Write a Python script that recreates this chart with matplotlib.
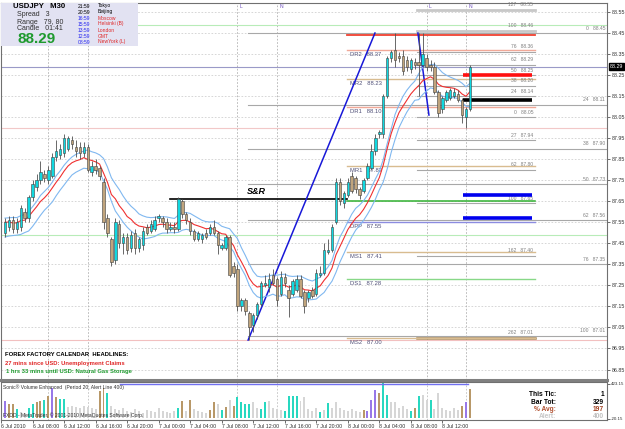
import matplotlib
matplotlib.use('Agg')
import matplotlib.pyplot as plt
import numpy as np
import pandas as pd
from matplotlib.patches import Rectangle

plt.rcParams['font.family'] = ['Liberation Sans', 'DejaVu Sans']

W, H = 625, 429

# ---- data -------------------------------------------------------------
opens = [87.50, 87.53, 87.56, 87.52, 87.53, 87.60, 87.57, 87.67, 87.72, 87.75,
         87.78, 87.75, 87.77, 87.86, 87.87, 87.88, 87.90, 87.94, 87.91, 87.91,
         87.88, 87.91, 87.79, 87.82, 87.81, 87.74, 87.57, 87.47, 87.37, 87.54,
         87.45, 87.48, 87.43, 87.50, 87.43, 87.44, 87.53, 87.51, 87.52, 87.57,
         87.57, 87.55, 87.52, 87.53, 87.52, 87.65, 87.59, 87.55, 87.51, 87.47,
         87.47, 87.50, 87.50, 87.53, 87.50, 87.43, 87.43, 87.48, 87.34, 87.33,
         87.15, 87.18, 87.12, 87.06, 87.11, 87.16, 87.25, 87.24, 87.30, 87.28,
         87.21, 87.29, 87.23, 87.21, 87.23, 87.28, 87.22, 87.19, 87.23, 87.21,
         87.30, 87.31, 87.41, 87.42, 87.55, 87.74, 87.64, 87.68, 87.77, 87.76,
         87.71, 87.70, 87.76, 87.81, 87.89, 87.97, 87.97, 88.15, 88.33, 88.37,
         88.34, 88.34, 88.32, 88.28, 88.31, 88.31, 88.30, 88.33, 88.30, 88.29,
         88.17, 88.09, 88.13, 88.14, 88.15, 88.16, 88.13, 88.05, 88.09]
highs = [87.57, 87.58, 87.58, 87.57, 87.63, 87.62, 87.68, 87.75, 87.78, 87.84,
         87.80, 87.82, 87.88, 87.94, 87.92, 87.97, 87.96, 87.96, 87.94, 87.93,
         87.93, 87.92, 87.84, 87.85, 87.82, 87.76, 87.59, 87.48, 87.57, 87.56,
         87.50, 87.50, 87.51, 87.52, 87.48, 87.53, 87.54, 87.56, 87.58, 87.59,
         87.58, 87.57, 87.55, 87.55, 87.67, 87.66, 87.60, 87.57, 87.52, 87.51,
         87.50, 87.52, 87.54, 87.56, 87.51, 87.45, 87.49, 87.49, 87.36, 87.35,
         87.19, 87.19, 87.13, 87.12, 87.17, 87.27, 87.30, 87.31, 87.33, 87.29,
         87.32, 87.31, 87.25, 87.28, 87.30, 87.30, 87.23, 87.23, 87.24, 87.33,
         87.34, 87.45, 87.47, 87.54, 87.76, 87.76, 87.70, 87.76, 87.79, 87.77,
         87.72, 87.76, 87.83, 87.92, 87.97, 87.99, 88.16, 88.34, 88.37, 88.45,
         88.36, 88.37, 88.34, 88.33, 88.33, 88.45, 88.45, 88.35, 88.32, 88.31,
         88.18, 88.15, 88.18, 88.19, 88.19, 88.18, 88.14, 88.10, 88.30]
lows = [87.48, 87.51, 87.50, 87.50, 87.51, 87.55, 87.55, 87.65, 87.70, 87.73,
        87.74, 87.73, 87.76, 87.84, 87.85, 87.86, 87.89, 87.90, 87.86, 87.85,
        87.86, 87.79, 87.77, 87.78, 87.75, 87.52, 87.48, 87.34, 87.35, 87.43,
        87.40, 87.40, 87.41, 87.40, 87.41, 87.42, 87.49, 87.50, 87.51, 87.55,
        87.53, 87.50, 87.51, 87.50, 87.51, 87.57, 87.54, 87.49, 87.46, 87.46,
        87.45, 87.47, 87.49, 87.49, 87.40, 87.42, 87.42, 87.29, 87.29, 87.13,
        87.13, 87.11, 86.99, 87.03, 87.09, 87.15, 87.24, 87.22, 87.25, 87.15,
        87.20, 87.24, 87.10, 87.20, 87.22, 87.19, 87.12, 87.17, 87.19, 87.20,
        87.29, 87.30, 87.40, 87.41, 87.54, 87.63, 87.62, 87.67, 87.69, 87.69,
        87.66, 87.69, 87.75, 87.80, 87.87, 87.95, 87.95, 88.14, 88.31, 88.29,
        88.31, 88.25, 88.27, 88.26, 88.28, 88.15, 88.29, 88.27, 88.27, 88.16,
        88.05, 88.07, 88.12, 88.13, 88.14, 88.12, 88.02, 88.00, 88.08]
closes = [87.55, 87.56, 87.52, 87.55, 87.62, 87.57, 87.67, 87.73, 87.75, 87.79,
          87.76, 87.80, 87.86, 87.89, 87.90, 87.95, 87.95, 87.92, 87.89, 87.88,
          87.91, 87.80, 87.82, 87.80, 87.77, 87.55, 87.50, 87.36, 87.55, 87.45,
          87.48, 87.42, 87.49, 87.43, 87.47, 87.51, 87.50, 87.54, 87.56, 87.58,
          87.55, 87.52, 87.53, 87.52, 87.66, 87.59, 87.56, 87.51, 87.47, 87.50,
          87.49, 87.48, 87.53, 87.50, 87.44, 87.44, 87.48, 87.30, 87.31, 87.15,
          87.18, 87.13, 87.05, 87.11, 87.16, 87.26, 87.26, 87.28, 87.26, 87.18,
          87.29, 87.26, 87.19, 87.27, 87.28, 87.20, 87.15, 87.22, 87.20, 87.31,
          87.31, 87.42, 87.42, 87.53, 87.74, 87.65, 87.69, 87.74, 87.70, 87.71,
          87.68, 87.75, 87.82, 87.89, 87.95, 87.98, 88.15, 88.33, 88.36, 88.32,
          88.33, 88.27, 88.29, 88.32, 88.30, 88.30, 88.35, 88.29, 88.29, 88.17,
          88.07, 88.14, 88.17, 88.18, 88.17, 88.13, 88.06, 88.09, 88.29]

volumes = [200, 166, 166, 108, 73, 65, 120, 166, 190, 200,
           213, 260, 353, 248, 225, 225, 131, 140, 131, 120,
           140, 131, 120, 108, 318, 353, 295, 140, 108, 96,
           120, 90, 75, 110, 85, 60, 100, 80, 70, 120,
           90, 70, 60, 90, 120, 200, 85, 213, 110, 90,
           70, 60, 100, 190, 166, 96, 131, 213, 140, 248,
           190, 166, 166, 190, 120, 110, 190, 200, 120, 110,
           100, 80, 260, 260, 260, 200, 248, 110, 90, 120,
           70, 100, 180, 120, 190, 120, 100, 80, 110, 90,
           70, 100, 80, 213, 330, 300, 411, 270, 190, 190,
           120, 140, 110, 90, 120, 260, 270, 213, 213, 110,
           295, 120, 100, 80, 120, 100, 140, 190, 342]
vol_kind = ("pttcggccttctptccgggggggg"
            "ttcggggggggggggggggg"
            "ctgtggggttgctgtccccggccgg"
            "ggccccgggggcgcgggggggg"
            "tpppt" "ccgggggctcggcgggggggt")

time_labels = ["6 Jul 2010", "6 Jul 08:00", "6 Jul 12:00", "6 Jul 16:00", "6 Jul 20:00",
               "7 Jul 00:00", "7 Jul 04:00", "7 Jul 08:00", "7 Jul 12:00", "7 Jul 16:00",
               "7 Jul 20:00", "8 Jul 00:00", "8 Jul 04:00", "8 Jul 08:00", "8 Jul 12:00"]
time_ticks = [-1 + 8 * k for k in range(len(time_labels))]

price_ticks = [88.55, 88.45, 88.35, 88.25, 88.15, 88.05, 87.95, 87.85, 87.75, 87.65,
               87.55, 87.45, 87.35, 87.25, 87.15, 87.05, 86.95, 86.85]
bid = 88.29

# fib drawn on the rally (long, right side labels)
fib_r_pct = [0, 24, 38, 50, 62, 76, 100]
fib_r_val = [88.45, 88.11, 87.90, 87.73, 87.56, 87.35, 87.01]
# fib drawn on the last swing (short)
fib_s_pct = [127, 100, 76, 62, 50, 38, 24, 0, 27, 62, 100, 162, 262]
fib_s_val = [88.56, 88.46, 88.36, 88.30, 88.25, 88.20, 88.15, 88.05, 87.94, 87.80, 87.64, 87.39, 87.00]
fib_s_txt = ["88.55", "88.46", "88.36", "88.29", "88.25", "88.20", "88.14", "88.05",
             "87.94", "87.80", "87.65", "87.40", "87.01"]

pivot_names = ["DR2", "MR2", "DR1", "MR1", "DPP", "MS1", "DS1", "MS2"]
pivot_vals = [88.37, 88.23, 88.10, 87.82, 87.55, 87.41, 87.28, 87.00]
pivot_cols = ["#F0A898", "#D8BC90", "#F0A898", "#D8BC90", "#8C8CE0", "#D8BC90", "#88D888", "#D8BC90"]

sr_level = 87.66
zone_levels = [88.25, 88.13, 87.68, 87.57]
zone_cols = ["#FF1010", "#000000", "#0000EE", "#0000EE"]

trend_a = ([61.7, 93.9], [86.99, 88.45])
trend_b = ([104.8, 107.6], [88.45, 88.06])

sess_L = [11, 59, 107]
sess_N = [21, 69, 117]

# ---- helpers -----------------------------------------------------------
def fx(px):
    return px / W


def fy(py):
    return 1 - py / H


def bx(px):
    return (px - 5) / 3.94


fig = plt.figure(figsize=(W / 100, H / 100), dpi=100)
fig.patch.set_facecolor('white')

ax = fig.add_axes([fx(1), fy(380), fx(607) - fx(1), fy(3) - fy(380)])
av = fig.add_axes([fx(1), fy(420), fx(607) - fx(1), fy(382) - fy(420)])

xlim = (bx(1), bx(607))
ax.set_xlim(*xlim)
ax.set_ylim(88.55 - 368 / 210.3, 88.55 + 9 / 210.3)
av.set_xlim(*xlim)
av.set_ylim(-20.15, 423.15)

for a in (ax, av):
    for s in a.spines.values():
        s.set_color('#707070')
        s.set_linewidth(0.8)
ax.spines['bottom'].set_linewidth(2.2)
ax.spines['bottom'].set_color('#808080')

# grid
for p in price_ticks:
    ax.axhline(p, color='#D0D0D0', lw=0.6, ls=(0, (2, 2)), zorder=0)

# session verticals
for s in sess_L + sess_N:
    ax.axvline(s, color='#B0B0B0', lw=0.6, ls=(0, (2, 2)), zorder=0)
    av.axvline(s, color='#C0C0C0', lw=0.6, ls=(0, (2, 2)), zorder=0)
for s in sess_L[1:]:
    ax.text(s + 0.6, 88.575, "L", color='#7050C0', fontsize=3.6, va='center')
for s in sess_N[1:]:
    ax.text(s + 0.6, 88.575, "N", color='#7050C0', fontsize=3.6, va='center')

# full-width lines
ax.axhline(88.49, color='#B8ECB8', lw=0.8, zorder=1)
ax.axhline(87.49, color='#B8ECB8', lw=0.8, zorder=1)
ax.axhline(88.00, color='#F2C8C8', lw=0.8, zorder=1)
ax.axhline(86.99, color='#F2C0C0', lw=0.8, zorder=1)
ax.axhline(bid, color='#9A9AC8', lw=0.8, zorder=1)

# right fib
x_fr0 = bx(248)
for pct, v in zip(fib_r_pct, fib_r_val):
    ax.plot([x_fr0, xlim[1]], [v, v], color='#A8A8A8', lw=0.8, zorder=1)
    ax.text(bx(605), v + 0.012, f"{pct}   {v:.2f}", ha='right', va='bottom',
            fontsize=3.6, color='#808080')

# short fib
xs0, xs1 = bx(417), bx(535)
for pct, v, t in zip(fib_s_pct, fib_s_val, fib_s_txt):
    col, lw = '#A8A8A8', 0.8
    if pct in (127,) or (pct == 100 and v > 88):
        col, lw = '#C8C8C8', 2.0
    if pct == 262:
        col, lw = '#A88858', 1.8
    ax.plot([xs0, xs1], [v, v], color=col, lw=lw, zorder=1)
    ax.text(bx(533), v + 0.012, f"{pct}   {t}", ha='right', va='bottom',
            fontsize=3.6, color='#808080')

# pivots
xp0, xp1 = bx(347), bx(535)
for n, v, c in zip(pivot_names, pivot_vals, pivot_cols):
    ax.plot([xp0, xp1], [v, v], color=c, lw=1.0, zorder=1)
    ax.text(bx(350), v - 0.01, f"{n}   {v:.2f}", ha='left', va='top',
            fontsize=4.2, color='#505078')

# resistance / support lines
ax.plot([xp0, xp1], [88.44, 88.44], color='#F04030', lw=1.3, zorder=2)
ax.plot([xp0, xp1], [87.65, 87.65], color='#30B030', lw=1.1, zorder=2)
ax.plot([bx(170), xp0], [sr_level, sr_level], color='black', lw=1.2, zorder=2)
ax.text(bx(247), sr_level + 0.015, "S&R", fontsize=6.5, fontweight='bold',
        fontstyle='italic', va='bottom')

for v, c in zip(zone_levels, zone_cols):
    ax.plot([bx(463), bx(532)], [v, v], color=c, lw=2.6, solid_capstyle='butt', zorder=3)

# trendlines
ax.plot(*trend_a, color='#1818D8', lw=1.1, zorder=3)
ax.plot(*trend_b, color='#1818D8', lw=1.1, zorder=3)

# moving averages (EMA of close, high, low)
ema_c = pd.Series(closes).ewm(span=12, adjust=False).mean()
ema_h = pd.Series(highs).ewm(span=12, adjust=False).mean()
ema_l = pd.Series(lows).ewm(span=12, adjust=False).mean()
idx = np.arange(len(closes))
ax.plot(idx, ema_h, color='#80B8F0', lw=0.8, zorder=3)
ax.plot(idx, ema_l, color='#80B8F0', lw=0.8, zorder=3)
ax.plot(idx, ema_c, color='#F03030', lw=0.8, zorder=3)

# candles
o = np.array(opens)
c = np.array(closes)
up = c >= o
ax.vlines(idx, lows, highs, color='#505050', lw=0.6, zorder=4)
body_lo = np.minimum(o, c)
body_h = np.maximum(np.abs(c - o), 0.004)
ax.bar(idx[up], body_h[up], bottom=body_lo[up], width=0.62, color='#10D8E0',
       edgecolor='#404040', lw=0.4, zorder=5)
ax.bar(idx[~up], body_h[~up], bottom=body_lo[~up], width=0.62, color='#C0A47C',
       edgecolor='#404040', lw=0.4, zorder=5)

# price axis
ax.yaxis.tick_right()
ax.set_yticks(price_ticks)
ax.set_yticklabels([f"{p:.2f}" for p in price_ticks])
ax.tick_params(axis='y', labelsize=3.8, length=2, width=0.5, pad=1.5,
               colors='#303030')
ax.set_xticks([])
ax.text(1.004, bid, f"{bid:.2f}", transform=ax.get_yaxis_transform(),
        fontsize=3.8, color='white', va='center', ha='left',
        bbox=dict(boxstyle='square,pad=0.15', fc='black', ec='black'))

# volume panel
vcol = {'g': '#D6D6D6', 'c': '#28D8C0', 't': '#B89868', 'p': '#9878E8'}
av.bar(idx, volumes, width=0.5, color=[vcol[k] for k in vol_kind], zorder=2)
av.plot([bx(120), bx(468)], [400, 400], color='#7070F0', lw=1.0, zorder=2)
av.yaxis.tick_right()
av.set_yticks([400, -5])
av.set_yticklabels(["423.15", "-20.15"])
av.tick_params(axis='y', labelsize=3.2, length=2, width=0.5, pad=0.8, colors='#303030')
av.set_xticks(time_ticks)
av.set_xticklabels(time_labels, ha='left')
av.tick_params(axis='x', labelsize=3.8, length=2, width=0.5, pad=1, colors='#303030')
av.text(0.004, 0.95, "Sonic\u00ae Volume Enhanced  (Period 20, Alert Line 400)",
        transform=av.transAxes, fontsize=3.6, va='top', color='#303030')
av.text(0.004, 0.05, "FXDD - MetaTrader, \u00a9 2001-2010 MetaQuotes Software Corp.",
        transform=av.transAxes, fontsize=3.6, va='bottom', color='#303030')

stats = [("This Tic:", "1", 'black', 'black'),
         ("Bar Tot:", "329", 'black', 'black'),
         ("% Avg:", "197", '#B05030', '#A04020'),
         ("Alert:", "400", '#C8C8C8', '#C0C0C0')]
for k, (lab, val, c1, c2) in enumerate(stats):
    yy = 395 + 7.3 * k
    fig.text(fx(556), fy(yy), lab, ha='right', va='center', fontsize=4.8,
             fontweight='bold', color=c1)
    fig.text(fx(604), fy(yy), val, ha='right', va='center', fontsize=4.8,
             fontweight='bold', color=c2)

# info box
fig.add_artist(Rectangle((fx(1), fy(46)), fx(138) - fx(1), fy(3) - fy(46),
                         transform=fig.transFigure, fc='#E2E2F2', ec='none', zorder=2))
fig.text(fx(13), fy(7), "USDJPY   M30", fontsize=5.6, fontweight='bold', va='center', zorder=3)
fig.text(fx(17), fy(15), "Spread   3", fontsize=5.0, va='center', color='#303030', zorder=3)
fig.text(fx(17), fy(22), "Range   79, 80", fontsize=5.0, va='center', color='#303030', zorder=3)
fig.text(fx(17), fy(29), "Candle   01:41", fontsize=5.0, va='center', color='#303030', zorder=3)
fig.text(fx(17), fy(39), "88.29", fontsize=11, fontweight='bold', va='center',
         color='#1E9A2E', zorder=3)

clock_t = ["21:59", "20:59", "16:59", "15:59", "13:59", "12:59", "08:59"]
clock_n = ["Tokyo", "Beijing", "Moscow", "Helsinki (B)", "London", "GMT", "NewYork (L)"]
for k, (t, n) in enumerate(zip(clock_t, clock_n)):
    yy = 6 + 6 * k
    ct = 'black' if k < 2 else '#2828F0'
    cn = 'black' if k < 2 else '#E02828'
    fig.text(fx(78), fy(yy), t, fontsize=3.6, va='center', color=ct, zorder=3)
    fig.text(fx(98), fy(yy), n, fontsize=3.6, va='center', color=cn, zorder=3)

# calendar headlines
fig.text(fx(5), fy(355), "FOREX FACTORY CALENDAR  HEADLINES:", fontsize=4.2,
         fontweight='bold', va='center', zorder=3)
fig.text(fx(5), fy(364), "27 mins since USD: Unemployment Claims", fontsize=4.2,
         fontweight='bold', va='center', color='#E02828', zorder=3)
fig.text(fx(6), fy(372), "1 hrs 33 mins until USD: Natural Gas Storage", fontsize=4.2,
         fontweight='bold', va='center', color='#1E9A2E', zorder=3)

fig.savefig('out.png', dpi=100)
